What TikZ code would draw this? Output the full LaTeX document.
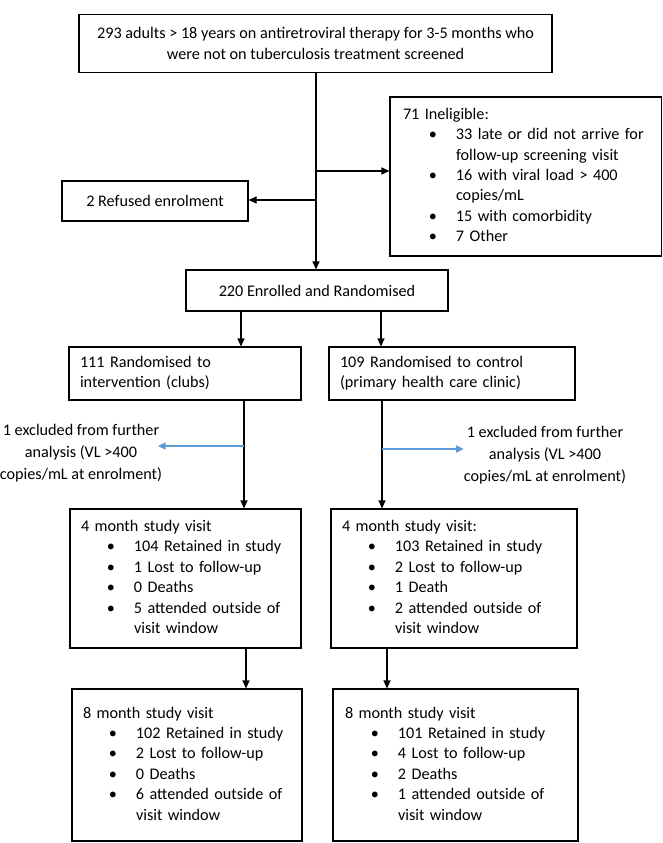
\documentclass[tikz,border=0pt]{standalone}
\usepackage{fontspec}
\setmainfont{Carlito}
\usetikzlibrary{arrows.meta}
\definecolor{arrblue}{HTML}{5B9BD5}
\newcommand\itm[1]{\hspace*{30pt}\makebox[0pt]{\textbullet}\hspace*{23pt}#1}
\newcommand\cnt[1]{\hspace*{53pt}#1}
\begin{document}
\begin{tikzpicture}[x=1pt,y=-1pt,
  every node/.style={font=\fontsize{16.2}{20.4}\selectfont},
  cbox/.style={draw, line width=1.1pt, align=center, inner sep=0pt},
  lbox/.style={draw, line width=1.1pt, align=left, inner ysep=0pt},
  txt/.style={inner sep=0pt, align=center, font=\fontsize{16.2}{21.8}\selectfont},
  arr/.style={line width=1.1pt, -{Triangle[length=8pt,width=7pt]}},
  barr/.style={line width=1.2pt, arrblue, -{Triangle[length=7.5pt,width=7pt]}}]
\useasboundingbox (0,0) rectangle (663,843);
% boxes
\node[cbox, minimum width=473pt, minimum height=58pt] (top) at (315.5,43.5)
  {293 adults > 18 years on antiretroviral therapy for 3-5 months who\\were not on tuberculosis treatment screened};
\node[lbox, inner xsep=13pt, text width=245.5pt, minimum height=159pt] (inel) at (525.75,176.5)
  {\begin{tabular}{@{}l@{}}71 Ineligible:\\
   \itm{33 late or did not arrive for}\\
   \cnt{follow-up screening visit}\\
   \itm{16 with viral load > 400}\\
   \cnt{copies/mL}\\
   \itm{15 with comorbidity}\\
   \itm{7 Other}\end{tabular}};
\node[cbox, minimum width=186pt, minimum height=40pt] (ref) at (155,201) {2 Refused enrolment};
\node[cbox, minimum width=262pt, minimum height=41pt] (enr) at (317,290.5) {220 Enrolled and Randomised};
\node[lbox, inner xsep=11pt, text width=210pt, minimum height=53pt] (intv) at (185,373.5)
  {\begin{tabular}{@{}l@{}}111 Randomised to\\intervention (clubs)\end{tabular}};
\node[lbox, inner xsep=11pt, text width=224pt, minimum height=53pt] (ctrl) at (452,373.5)
  {\begin{tabular}{@{}l@{}}109 Randomised to control\\(primary health care clinic)\end{tabular}};
\node[txt] (exl) at (81,453) {1 excluded from further\\analysis (VL >400\\copies/mL at enrolment)};
\node[txt] (exr) at (545,455) {1 excluded from further\\analysis (VL >400\\copies/mL at enrolment)};
\node[lbox, inner xsep=11pt, text width=209pt, minimum height=139pt] (m4l) at (185.5,578.5)
  {\begin{tabular}{@{}l@{}}4 month study visit\\
   \itm{104 Retained in study}\\
   \itm{1 Lost to follow-up}\\
   \itm{0 Deaths}\\
   \itm{5 attended outside of}\\
   \cnt{visit window}\end{tabular}};
\node[lbox, inner xsep=11pt, text width=224pt, minimum height=139pt] (m4r) at (454,578.5)
  {\begin{tabular}{@{}l@{}}4 month study visit:\\
   \itm{103 Retained in study}\\
   \itm{2 Lost to follow-up}\\
   \itm{1 Death}\\
   \itm{2 attended outside of}\\
   \cnt{visit window}\end{tabular}};
\node[lbox, inner xsep=11pt, text width=208pt, minimum height=152pt] (m8l) at (187,765)
  {\begin{tabular}{@{}l@{}}8 month study visit\\
   \itm{102 Retained in study}\\
   \itm{2 Lost to follow-up}\\
   \itm{0 Deaths}\\
   \itm{6 attended outside of}\\
   \cnt{visit window}\end{tabular}};
\node[lbox, inner xsep=12pt, text width=221pt, minimum height=152pt] (m8r) at (455.5,765)
  {\begin{tabular}{@{}l@{}}8 month study visit\\
   \itm{101 Retained in study}\\
   \itm{4 Lost to follow-up}\\
   \itm{2 Deaths}\\
   \itm{1 attended outside of}\\
   \cnt{visit window}\end{tabular}};
% coordinates
\coordinate (s0) at (316,73);
\coordinate (jI) at (316,171);
\coordinate (jR) at (316,200);
\coordinate (c1) at (241,0);
\coordinate (c2) at (381,0);
\coordinate (c3) at (244,0);
\coordinate (c4) at (382,0);
\coordinate (c5) at (246,0);
\coordinate (c6) at (387,0);
\coordinate (jL) at (244,446);
\coordinate (tL) at (158,446);
\coordinate (jRt) at (382,449);
% connectors
\draw[arr] (s0) -- (s0 |- enr.north);
\draw[arr] (jI) -- (jI -| inel.west);
\draw[arr] (jR) -- (jR -| ref.east);
\draw[arr] (c1 |- enr.south) -- (c1 |- intv.north);
\draw[arr] (c2 |- enr.south) -- (c2 |- ctrl.north);
\draw[arr] (c3 |- intv.south) -- (c3 |- m4l.north);
\draw[arr] (c4 |- ctrl.south) -- (c4 |- m4r.north);
\draw[barr] (jL) -- (tL);
\draw[barr] (jRt) -- (jRt -| exr.west);
\draw[arr] (c5 |- m4l.south) -- (c5 |- m8l.north);
\draw[arr] (c6 |- m4r.south) -- (c6 |- m8r.north);
\end{tikzpicture}
\end{document}
